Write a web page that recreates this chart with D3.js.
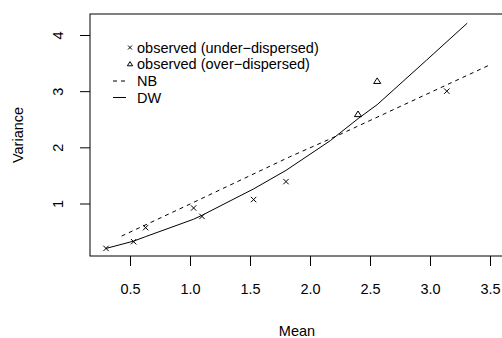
<!DOCTYPE html>
<html>
<head>
<meta charset="utf-8">
<script src="https://cdn.jsdelivr.net/npm/d3@7"></script>
<style>
  html, body { margin: 0; padding: 0; background: #fff; }
  svg { display: block; }
  text { font-family: "Liberation Sans", Arial, Helvetica, sans-serif; fill: #000; }
</style>
</head>
<body>
<svg id="chart" width="502" height="338"></svg>
<script>
// ---- data ----
const underMean = [0.30, 0.53, 0.63, 1.03, 1.10, 1.53, 1.80, 3.14];
const underVar  = [0.20, 0.32, 0.57, 0.92, 0.77, 1.07, 1.39, 3.00];
const overMean  = [2.40, 2.56];
const overVar   = [2.59, 3.18];
const nbMean    = [0.43, 1.00, 1.83, 2.22, 3.49];
const nbVar     = [0.42, 0.99, 1.83, 2.20, 3.46];
const dwMean    = [0.30, 0.53, 0.63, 1.03, 1.10, 1.53, 1.80, 2.17, 2.40, 2.56, 2.97, 3.31];
const dwVar     = [0.20, 0.33, 0.41, 0.72, 0.79, 1.26, 1.59, 2.12, 2.51, 2.76, 3.55, 4.21];
const xTicks    = [0.5, 1.0, 1.5, 2.0, 2.5, 3.0, 3.5];
const yTicks    = [1, 2, 3, 4];
const legendLabels = ["observed (under\u2212dispersed)", "observed (over\u2212dispersed)", "NB", "DW"];

// ---- layout ----
const svg = d3.select("#chart");
const box = { left: 90, top: 14, right: 504, bottom: 256 };
const x = d3.scaleLinear().domain([0.5, 3.5]).range([130, 490]);
const y = d3.scaleLinear().domain([1, 4]).range([203.5, 35]);
const fs = 14.5;

// box
svg.append("rect")
  .attr("x", box.left).attr("y", box.top)
  .attr("width", box.right - box.left).attr("height", box.bottom - box.top)
  .attr("fill", "none").attr("stroke", "#000").attr("stroke-width", 1);

// x axis
const xAxis = d3.axisBottom(x).tickValues(xTicks).tickFormat(d3.format(".1f"))
  .tickSize(10).tickPadding(18);
const gx = svg.append("g").attr("transform", `translate(0,${box.bottom})`).call(xAxis);
gx.select(".domain").remove();
gx.selectAll("text").attr("font-size", fs).attr("font-family", null).attr("dy", null)
  .attr("y", 38).attr("fill", "#000");
gx.selectAll("line").attr("stroke", "#000");

// y axis
const yAxis = d3.axisLeft(y).tickValues(yTicks).tickFormat(d3.format("d")).tickSize(10);
const gy = svg.append("g").attr("transform", `translate(${box.left},0)`).call(yAxis);
gy.select(".domain").remove();
gy.selectAll("line").attr("stroke", "#000");
gy.selectAll(".tick text")
  .attr("font-size", fs).attr("font-family", null)
  .attr("x", null).attr("dy", null).attr("y", null)
  .attr("text-anchor", "middle")
  .attr("transform", "translate(-27,0) rotate(-90)")
  .attr("fill", "#000");

// axis titles
svg.append("text").attr("x", (box.left + box.right) / 2).attr("y", 336)
  .attr("text-anchor", "middle").attr("font-size", fs).text("Mean");
svg.append("text")
  .attr("transform", `translate(23,${(box.top + box.bottom) / 2}) rotate(-90)`)
  .attr("text-anchor", "middle").attr("font-size", fs).text("Variance");

// lines
const line = d3.line().x(d => x(d[0])).y(d => y(d[1]));
svg.append("path").datum(nbMean.map((m, i) => [m, nbVar[i]]))
  .attr("d", line).attr("fill", "none").attr("stroke", "#000")
  .attr("stroke-width", 1).attr("stroke-dasharray", "4,4");
svg.append("path").datum(dwMean.map((m, i) => [m, dwVar[i]]))
  .attr("d", line).attr("fill", "none").attr("stroke", "#000").attr("stroke-width", 1);

// markers
function cross(g, cx, cy, h) {
  g.append("path").attr("d", `M${cx - h},${cy - h}L${cx + h},${cy + h}M${cx - h},${cy + h}L${cx + h},${cy - h}`)
    .attr("stroke", "#000").attr("stroke-width", 1).attr("fill", "none");
}
function tri(g, cx, cy, h) {
  const s = h * 1.1;
  g.append("path").attr("d", `M${cx},${cy - h}L${cx + s},${cy + h * 0.75}L${cx - s},${cy + h * 0.75}Z`)
    .attr("stroke", "#000").attr("stroke-width", 1).attr("fill", "none");
}
const pts = svg.append("g");
underMean.forEach((m, i) => cross(pts, x(m), y(underVar[i]), 2.7));
overMean.forEach((m, i) => tri(pts, x(overMean[i]), y(overVar[i]), 3.2));

// legend
const lg = svg.append("g");
const rowY = [47.5, 64, 81, 97.5];
const symX = 130, lineX0 = 113, lineX1 = 126, textX = 137;
cross(lg, symX, rowY[0], 2);
tri(lg, symX, rowY[1], 2.4);
lg.append("line").attr("x1", lineX0).attr("x2", lineX1).attr("y1", rowY[2]).attr("y2", rowY[2])
  .attr("stroke", "#000").attr("stroke-dasharray", "4,4");
lg.append("line").attr("x1", lineX0).attr("x2", lineX1).attr("y1", rowY[3]).attr("y2", rowY[3])
  .attr("stroke", "#000");
legendLabels.forEach((t, i) => {
  lg.append("text").attr("x", textX).attr("y", rowY[i]).attr("dy", "0.35em")
    .attr("font-size", fs).text(t);
});
</script>
</body>
</html>
